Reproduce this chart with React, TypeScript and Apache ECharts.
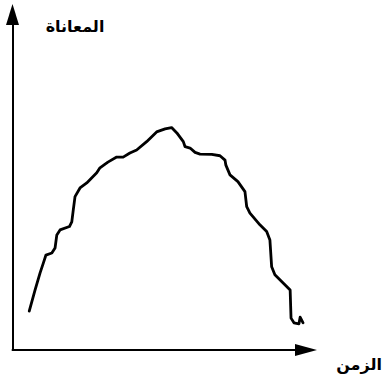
import React, { useEffect, useRef } from "react";
import * as echarts from "echarts";

// Time (x) values and suffering (y) values (0..100 scale)
const timeValues = [
  5.7, 7.7, 9.4, 10.5, 11.4, 13.4, 14.5, 15.1, 16.2, 19.4, 20.2, 20.7, 21.3, 23.0, 25.3,
  28.7, 29.8, 32.5, 35.5, 37.7, 40.0, 42.3, 45.7, 49.1, 52.0, 54.2, 56.0, 58.2, 58.8,
  60.5, 62.2, 63.9, 67.9, 70.7, 72.4, 72.7, 74.1, 76.8, 79.2, 79.8, 80.9, 84.3, 86.6,
  87.7, 88.3, 89.4, 92.3, 94.6, 94.9, 95.9, 97.6, 98.0, 99.0,
];
const sufferingValues = [
  11.6, 17.9, 23.0, 25.9, 28.3, 28.9, 30.4, 34.3, 35.8, 36.8, 38.2, 41.7, 45.7, 48.3, 49.8,
  52.8, 54.3, 56.0, 57.5, 57.5, 58.7, 59.6, 62.1, 65.0, 65.9, 66.3, 64.7, 62.1, 60.6,
  60.2, 58.9, 58.4, 58.3, 57.9, 56.6, 55.1, 52.2, 50.2, 47.2, 42.7, 40.8, 37.3, 35.3,
  32.8, 24.8, 22.4, 19.9, 17.9, 9.5, 8.1, 7.8, 9.8, 8.1,
];
const yAxisTitle = "المعاناة";
const xAxisTitle = "الزمن";

export default function App() {
  const ref = useRef<HTMLDivElement>(null);
  useEffect(() => {
    if (!ref.current) return;
    const chart = echarts.init(ref.current, undefined, { renderer: "svg" });
    const data = timeValues.map((t, i) => [t, sufferingValues[i]]);
    chart.setOption({
      animation: false,
      backgroundColor: "#ffffff",
      grid: { left: 12.5, top: 14.5, right: 81, bottom: 30 },
      xAxis: {
        type: "value",
        min: 0,
        max: 100,
        axisLine: {
          show: true,
          symbol: ["none", "triangle"],
          symbolSize: [12, 22],
          lineStyle: { color: "#000", width: 2 },
        },
        axisTick: { show: false },
        axisLabel: { show: false },
        splitLine: { show: false },
      },
      yAxis: {
        type: "value",
        min: 0,
        max: 100,
        axisLine: {
          show: true,
          symbol: ["none", "triangle"],
          symbolSize: [13, 21],
          lineStyle: { color: "#000", width: 2 },
        },
        axisTick: { show: false },
        axisLabel: { show: false },
        splitLine: { show: false },
      },
      graphic: [
        {
          type: "text",
          x: 75,
          y: 26,
          style: {
            text: yAxisTitle,
            font: 'bold 16px "DejaVu Sans"',
            fill: "#000",
            align: "center",
            verticalAlign: "middle",
          },
        },
        {
          type: "text",
          x: 359,
          y: 364,
          style: {
            text: xAxisTitle,
            font: 'bold 16px "DejaVu Sans"',
            fill: "#000",
            align: "center",
            verticalAlign: "middle",
          },
        },
      ],
      series: [
        {
          type: "line",
          data,
          showSymbol: false,
          smooth: false,
          lineStyle: { color: "#000", width: 2.8, join: "round", cap: "round" },
        },
      ],
    });
    return () => chart.dispose();
  }, []);
  return (
    <div
      ref={ref}
      style={{ position: "absolute", left: 0, top: 0, width: 387, height: 380 }}
    />
  );
}
